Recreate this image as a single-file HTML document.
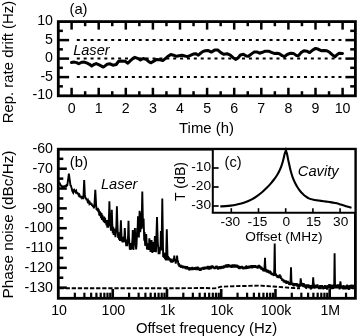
<!DOCTYPE html>
<html><head><meta charset="utf-8"><title>Figure</title>
<style>
html,body{margin:0;padding:0;background:#fff;}
svg{display:block;will-change:transform;}
svg text{font-family:"Liberation Sans", sans-serif;fill:#000;}
</style></head><body>
<svg width="357" height="336" viewBox="0 0 357 336">
<rect width="357" height="336" fill="#fff"/>
<rect x="58.3" y="21.6" width="297.10" height="74.20" fill="none" stroke="#000" stroke-width="2.8"/>
<line x1="71.60" y1="21.60" x2="71.60" y2="29.60" stroke="#000" stroke-width="2.5" />
<line x1="71.60" y1="95.80" x2="71.60" y2="87.80" stroke="#000" stroke-width="2.5" />
<line x1="85.15" y1="21.60" x2="85.15" y2="26.20" stroke="#000" stroke-width="2.5" />
<line x1="85.15" y1="95.80" x2="85.15" y2="91.20" stroke="#000" stroke-width="2.5" />
<line x1="98.70" y1="21.60" x2="98.70" y2="29.60" stroke="#000" stroke-width="2.5" />
<line x1="98.70" y1="95.80" x2="98.70" y2="87.80" stroke="#000" stroke-width="2.5" />
<line x1="112.25" y1="21.60" x2="112.25" y2="26.20" stroke="#000" stroke-width="2.5" />
<line x1="112.25" y1="95.80" x2="112.25" y2="91.20" stroke="#000" stroke-width="2.5" />
<line x1="125.80" y1="21.60" x2="125.80" y2="29.60" stroke="#000" stroke-width="2.5" />
<line x1="125.80" y1="95.80" x2="125.80" y2="87.80" stroke="#000" stroke-width="2.5" />
<line x1="139.35" y1="21.60" x2="139.35" y2="26.20" stroke="#000" stroke-width="2.5" />
<line x1="139.35" y1="95.80" x2="139.35" y2="91.20" stroke="#000" stroke-width="2.5" />
<line x1="152.90" y1="21.60" x2="152.90" y2="29.60" stroke="#000" stroke-width="2.5" />
<line x1="152.90" y1="95.80" x2="152.90" y2="87.80" stroke="#000" stroke-width="2.5" />
<line x1="166.45" y1="21.60" x2="166.45" y2="26.20" stroke="#000" stroke-width="2.5" />
<line x1="166.45" y1="95.80" x2="166.45" y2="91.20" stroke="#000" stroke-width="2.5" />
<line x1="180.00" y1="21.60" x2="180.00" y2="29.60" stroke="#000" stroke-width="2.5" />
<line x1="180.00" y1="95.80" x2="180.00" y2="87.80" stroke="#000" stroke-width="2.5" />
<line x1="193.55" y1="21.60" x2="193.55" y2="26.20" stroke="#000" stroke-width="2.5" />
<line x1="193.55" y1="95.80" x2="193.55" y2="91.20" stroke="#000" stroke-width="2.5" />
<line x1="207.10" y1="21.60" x2="207.10" y2="29.60" stroke="#000" stroke-width="2.5" />
<line x1="207.10" y1="95.80" x2="207.10" y2="87.80" stroke="#000" stroke-width="2.5" />
<line x1="220.65" y1="21.60" x2="220.65" y2="26.20" stroke="#000" stroke-width="2.5" />
<line x1="220.65" y1="95.80" x2="220.65" y2="91.20" stroke="#000" stroke-width="2.5" />
<line x1="234.20" y1="21.60" x2="234.20" y2="29.60" stroke="#000" stroke-width="2.5" />
<line x1="234.20" y1="95.80" x2="234.20" y2="87.80" stroke="#000" stroke-width="2.5" />
<line x1="247.75" y1="21.60" x2="247.75" y2="26.20" stroke="#000" stroke-width="2.5" />
<line x1="247.75" y1="95.80" x2="247.75" y2="91.20" stroke="#000" stroke-width="2.5" />
<line x1="261.30" y1="21.60" x2="261.30" y2="29.60" stroke="#000" stroke-width="2.5" />
<line x1="261.30" y1="95.80" x2="261.30" y2="87.80" stroke="#000" stroke-width="2.5" />
<line x1="274.85" y1="21.60" x2="274.85" y2="26.20" stroke="#000" stroke-width="2.5" />
<line x1="274.85" y1="95.80" x2="274.85" y2="91.20" stroke="#000" stroke-width="2.5" />
<line x1="288.40" y1="21.60" x2="288.40" y2="29.60" stroke="#000" stroke-width="2.5" />
<line x1="288.40" y1="95.80" x2="288.40" y2="87.80" stroke="#000" stroke-width="2.5" />
<line x1="301.95" y1="21.60" x2="301.95" y2="26.20" stroke="#000" stroke-width="2.5" />
<line x1="301.95" y1="95.80" x2="301.95" y2="91.20" stroke="#000" stroke-width="2.5" />
<line x1="315.50" y1="21.60" x2="315.50" y2="29.60" stroke="#000" stroke-width="2.5" />
<line x1="315.50" y1="95.80" x2="315.50" y2="87.80" stroke="#000" stroke-width="2.5" />
<line x1="329.05" y1="21.60" x2="329.05" y2="26.20" stroke="#000" stroke-width="2.5" />
<line x1="329.05" y1="95.80" x2="329.05" y2="91.20" stroke="#000" stroke-width="2.5" />
<line x1="342.60" y1="21.60" x2="342.60" y2="29.60" stroke="#000" stroke-width="2.5" />
<line x1="342.60" y1="95.80" x2="342.60" y2="87.80" stroke="#000" stroke-width="2.5" />
<line x1="58.30" y1="86.35" x2="62.90" y2="86.35" stroke="#000" stroke-width="2.5" />
<line x1="355.40" y1="86.35" x2="350.20" y2="86.35" stroke="#000" stroke-width="2.5" />
<line x1="58.30" y1="77.10" x2="69.10" y2="77.10" stroke="#000" stroke-width="2.5" />
<line x1="355.40" y1="77.10" x2="345.40" y2="77.10" stroke="#000" stroke-width="2.5" />
<line x1="58.30" y1="67.85" x2="62.90" y2="67.85" stroke="#000" stroke-width="2.5" />
<line x1="355.40" y1="67.85" x2="350.20" y2="67.85" stroke="#000" stroke-width="2.5" />
<line x1="58.30" y1="58.60" x2="69.10" y2="58.60" stroke="#000" stroke-width="2.5" />
<line x1="355.40" y1="58.60" x2="345.40" y2="58.60" stroke="#000" stroke-width="2.5" />
<line x1="58.30" y1="49.35" x2="62.90" y2="49.35" stroke="#000" stroke-width="2.5" />
<line x1="355.40" y1="49.35" x2="350.20" y2="49.35" stroke="#000" stroke-width="2.5" />
<line x1="58.30" y1="40.10" x2="69.10" y2="40.10" stroke="#000" stroke-width="2.5" />
<line x1="355.40" y1="40.10" x2="345.40" y2="40.10" stroke="#000" stroke-width="2.5" />
<line x1="58.30" y1="30.85" x2="62.90" y2="30.85" stroke="#000" stroke-width="2.5" />
<line x1="355.40" y1="30.85" x2="350.20" y2="30.85" stroke="#000" stroke-width="2.5" />
<line x1="76.80" y1="40.10" x2="342.50" y2="40.10" stroke="#000" stroke-width="2.0" stroke-dasharray="3.0 3.885"/>
<line x1="76.80" y1="58.60" x2="342.50" y2="58.60" stroke="#000" stroke-width="2.0" stroke-dasharray="3.0 3.885"/>
<line x1="76.80" y1="77.10" x2="342.50" y2="77.10" stroke="#000" stroke-width="2.0" stroke-dasharray="3.0 3.885"/>
<text x="53.00" y="25.10" font-size="14.2" text-anchor="end" >10</text>
<text x="53.00" y="43.60" font-size="14.2" text-anchor="end" >5</text>
<text x="53.00" y="62.10" font-size="14.2" text-anchor="end" >0</text>
<text x="53.00" y="80.60" font-size="14.2" text-anchor="end" >-5</text>
<text x="53.00" y="99.10" font-size="14.2" text-anchor="end" >-10</text>
<text x="71.60" y="112.60" font-size="14.2" text-anchor="middle" >0</text>
<text x="98.70" y="112.60" font-size="14.2" text-anchor="middle" >1</text>
<text x="125.80" y="112.60" font-size="14.2" text-anchor="middle" >2</text>
<text x="152.90" y="112.60" font-size="14.2" text-anchor="middle" >3</text>
<text x="180.00" y="112.60" font-size="14.2" text-anchor="middle" >4</text>
<text x="207.10" y="112.60" font-size="14.2" text-anchor="middle" >5</text>
<text x="234.20" y="112.60" font-size="14.2" text-anchor="middle" >6</text>
<text x="261.30" y="112.60" font-size="14.2" text-anchor="middle" >7</text>
<text x="288.40" y="112.60" font-size="14.2" text-anchor="middle" >8</text>
<text x="315.50" y="112.60" font-size="14.2" text-anchor="middle" >9</text>
<text x="342.60" y="112.60" font-size="14.2" text-anchor="middle" >10</text>
<text x="206.50" y="132.60" font-size="14.9" text-anchor="middle" >Time (h)</text>
<text x="12.90" y="62.00" font-size="14.9" text-anchor="middle" transform="rotate(-90 12.90 62.00)" >Rep. rate drift (Hz)</text>
<text x="78.50" y="13.60" font-size="14.8" text-anchor="middle" >(a)</text>
<text x="91.40" y="54.90" font-size="14.6" text-anchor="middle" font-style="italic">Laser</text>
<polyline fill="none" stroke="#000" stroke-width="3.0" stroke-linejoin="round" stroke-linecap="round" points="71.5,62.6 74.3,62.1 76.6,62.6 78.8,63.8 81.6,62.3 84.4,62.1 87.2,63.2 89.5,64.3 91.7,66.0 93.9,64.5 96.2,63.6 99.2,64.9 103.3,67.1 107.2,64.3 110.0,63.8 112.8,65.2 116.2,64.5 118.4,61.5 121.2,61.0 125.1,61.2 127.9,63.2 130.7,60.4 132.5,58.8 134.8,57.3 137.6,58.3 140.4,60.0 143.2,58.5 146.0,59.2 148.8,61.7 151.0,62.8 153.8,61.1 156.6,59.4 160.0,59.7 162.8,60.6 165.6,58.3 168.2,56.2 170.8,54.5 173.6,55.2 176.4,56.3 179.2,55.7 182.0,55.2 184.8,56.0 187.6,56.6 190.4,55.4 193.2,54.1 196.0,53.8 198.3,55.2 199.9,53.8 202.7,51.6 205.2,50.8 207.9,50.4 211.3,52.1 214.6,50.1 218.0,50.1 220.8,52.6 223.6,54.3 227.5,53.8 230.3,55.2 233.1,57.7 235.9,59.4 238.2,57.7 240.4,55.0 243.4,54.3 246.2,56.0 248.4,56.3 251.2,54.1 254.0,52.1 256.8,51.9 259.6,53.2 262.4,52.3 265.2,51.2 268.6,51.2 271.4,52.3 274.2,53.4 277.0,53.3 279.4,53.8 282.2,55.7 284.4,56.6 287.2,54.5 290.6,53.2 293.4,53.4 296.2,55.4 298.4,55.7 301.2,52.6 304.0,50.7 306.8,51.2 309.6,52.6 312.6,50.1 315.6,48.4 318.4,49.3 321.2,50.7 324.0,50.4 326.8,50.7 329.6,52.3 332.4,54.9 334.9,56.8 336.9,54.9 339.1,53.2 342.5,53.4"/>
<rect x="58.3" y="149.2" width="297.10" height="149.10" fill="none" stroke="#000" stroke-width="2.8"/>
<line x1="58.30" y1="158.81" x2="63.30" y2="158.81" stroke="#000" stroke-width="2.5" />
<line x1="58.30" y1="168.72" x2="66.80" y2="168.72" stroke="#000" stroke-width="2.5" />
<line x1="58.30" y1="178.63" x2="63.30" y2="178.63" stroke="#000" stroke-width="2.5" />
<line x1="58.30" y1="188.54" x2="66.80" y2="188.54" stroke="#000" stroke-width="2.5" />
<line x1="58.30" y1="198.45" x2="63.30" y2="198.45" stroke="#000" stroke-width="2.5" />
<line x1="58.30" y1="208.36" x2="66.80" y2="208.36" stroke="#000" stroke-width="2.5" />
<line x1="58.30" y1="218.27" x2="63.30" y2="218.27" stroke="#000" stroke-width="2.5" />
<line x1="58.30" y1="228.18" x2="66.80" y2="228.18" stroke="#000" stroke-width="2.5" />
<line x1="58.30" y1="238.09" x2="63.30" y2="238.09" stroke="#000" stroke-width="2.5" />
<line x1="58.30" y1="248.00" x2="66.80" y2="248.00" stroke="#000" stroke-width="2.5" />
<line x1="58.30" y1="257.91" x2="63.30" y2="257.91" stroke="#000" stroke-width="2.5" />
<line x1="58.30" y1="267.82" x2="66.80" y2="267.82" stroke="#000" stroke-width="2.5" />
<line x1="58.30" y1="277.73" x2="63.30" y2="277.73" stroke="#000" stroke-width="2.5" />
<line x1="58.30" y1="287.64" x2="66.80" y2="287.64" stroke="#000" stroke-width="2.5" />
<text x="53.00" y="153.20" font-size="14.2" text-anchor="end" >-60</text>
<text x="53.00" y="173.02" font-size="14.2" text-anchor="end" >-70</text>
<text x="53.00" y="192.84" font-size="14.2" text-anchor="end" >-80</text>
<text x="53.00" y="212.66" font-size="14.2" text-anchor="end" >-90</text>
<text x="53.00" y="232.48" font-size="14.2" text-anchor="end" >-100</text>
<text x="53.00" y="252.30" font-size="14.2" text-anchor="end" >-110</text>
<text x="53.00" y="272.12" font-size="14.2" text-anchor="end" >-120</text>
<text x="53.00" y="291.94" font-size="14.2" text-anchor="end" >-130</text>
<line x1="74.83" y1="298.30" x2="74.83" y2="292.70" stroke="#000" stroke-width="2.2" />
<line x1="84.38" y1="298.30" x2="84.38" y2="292.70" stroke="#000" stroke-width="2.2" />
<line x1="91.16" y1="298.30" x2="91.16" y2="292.70" stroke="#000" stroke-width="2.2" />
<line x1="96.41" y1="298.30" x2="96.41" y2="292.70" stroke="#000" stroke-width="2.2" />
<line x1="100.71" y1="298.30" x2="100.71" y2="292.70" stroke="#000" stroke-width="2.2" />
<line x1="104.34" y1="298.30" x2="104.34" y2="292.70" stroke="#000" stroke-width="2.2" />
<line x1="107.48" y1="298.30" x2="107.48" y2="292.70" stroke="#000" stroke-width="2.2" />
<line x1="110.26" y1="298.30" x2="110.26" y2="292.70" stroke="#000" stroke-width="2.2" />
<line x1="112.74" y1="298.30" x2="112.74" y2="289.00" stroke="#000" stroke-width="2.6" />
<line x1="129.07" y1="298.30" x2="129.07" y2="292.70" stroke="#000" stroke-width="2.2" />
<line x1="138.62" y1="298.30" x2="138.62" y2="292.70" stroke="#000" stroke-width="2.2" />
<line x1="145.40" y1="298.30" x2="145.40" y2="292.70" stroke="#000" stroke-width="2.2" />
<line x1="150.65" y1="298.30" x2="150.65" y2="292.70" stroke="#000" stroke-width="2.2" />
<line x1="154.95" y1="298.30" x2="154.95" y2="292.70" stroke="#000" stroke-width="2.2" />
<line x1="158.58" y1="298.30" x2="158.58" y2="292.70" stroke="#000" stroke-width="2.2" />
<line x1="161.72" y1="298.30" x2="161.72" y2="292.70" stroke="#000" stroke-width="2.2" />
<line x1="164.50" y1="298.30" x2="164.50" y2="292.70" stroke="#000" stroke-width="2.2" />
<line x1="166.98" y1="298.30" x2="166.98" y2="289.00" stroke="#000" stroke-width="2.6" />
<line x1="183.31" y1="298.30" x2="183.31" y2="292.70" stroke="#000" stroke-width="2.2" />
<line x1="192.86" y1="298.30" x2="192.86" y2="292.70" stroke="#000" stroke-width="2.2" />
<line x1="199.64" y1="298.30" x2="199.64" y2="292.70" stroke="#000" stroke-width="2.2" />
<line x1="204.89" y1="298.30" x2="204.89" y2="292.70" stroke="#000" stroke-width="2.2" />
<line x1="209.19" y1="298.30" x2="209.19" y2="292.70" stroke="#000" stroke-width="2.2" />
<line x1="212.82" y1="298.30" x2="212.82" y2="292.70" stroke="#000" stroke-width="2.2" />
<line x1="215.96" y1="298.30" x2="215.96" y2="292.70" stroke="#000" stroke-width="2.2" />
<line x1="218.74" y1="298.30" x2="218.74" y2="292.70" stroke="#000" stroke-width="2.2" />
<line x1="221.22" y1="298.30" x2="221.22" y2="289.00" stroke="#000" stroke-width="2.6" />
<line x1="237.55" y1="298.30" x2="237.55" y2="292.70" stroke="#000" stroke-width="2.2" />
<line x1="247.10" y1="298.30" x2="247.10" y2="292.70" stroke="#000" stroke-width="2.2" />
<line x1="253.88" y1="298.30" x2="253.88" y2="292.70" stroke="#000" stroke-width="2.2" />
<line x1="259.13" y1="298.30" x2="259.13" y2="292.70" stroke="#000" stroke-width="2.2" />
<line x1="263.43" y1="298.30" x2="263.43" y2="292.70" stroke="#000" stroke-width="2.2" />
<line x1="267.06" y1="298.30" x2="267.06" y2="292.70" stroke="#000" stroke-width="2.2" />
<line x1="270.20" y1="298.30" x2="270.20" y2="292.70" stroke="#000" stroke-width="2.2" />
<line x1="272.98" y1="298.30" x2="272.98" y2="292.70" stroke="#000" stroke-width="2.2" />
<line x1="275.46" y1="298.30" x2="275.46" y2="289.00" stroke="#000" stroke-width="2.6" />
<line x1="291.79" y1="298.30" x2="291.79" y2="292.70" stroke="#000" stroke-width="2.2" />
<line x1="301.34" y1="298.30" x2="301.34" y2="292.70" stroke="#000" stroke-width="2.2" />
<line x1="308.12" y1="298.30" x2="308.12" y2="292.70" stroke="#000" stroke-width="2.2" />
<line x1="313.37" y1="298.30" x2="313.37" y2="292.70" stroke="#000" stroke-width="2.2" />
<line x1="317.67" y1="298.30" x2="317.67" y2="292.70" stroke="#000" stroke-width="2.2" />
<line x1="321.30" y1="298.30" x2="321.30" y2="292.70" stroke="#000" stroke-width="2.2" />
<line x1="324.44" y1="298.30" x2="324.44" y2="292.70" stroke="#000" stroke-width="2.2" />
<line x1="327.22" y1="298.30" x2="327.22" y2="292.70" stroke="#000" stroke-width="2.2" />
<line x1="329.70" y1="298.30" x2="329.70" y2="289.00" stroke="#000" stroke-width="2.6" />
<line x1="346.03" y1="298.30" x2="346.03" y2="292.70" stroke="#000" stroke-width="2.2" />
<text x="59.10" y="314.90" font-size="14.2" text-anchor="middle" >10</text>
<text x="113.34" y="314.90" font-size="14.2" text-anchor="middle" >100</text>
<text x="167.58" y="314.90" font-size="14.2" text-anchor="middle" >1k</text>
<text x="221.82" y="314.90" font-size="14.2" text-anchor="middle" >10k</text>
<text x="276.06" y="314.90" font-size="14.2" text-anchor="middle" >100k</text>
<text x="330.30" y="314.90" font-size="14.2" text-anchor="middle" >1M</text>
<text x="206.50" y="333.00" font-size="14.9" text-anchor="middle" >Offset frequency (Hz)</text>
<text x="13.20" y="224.50" font-size="15.3" text-anchor="middle" transform="rotate(-90 13.20 224.50)" >Phase noise (dBc/Hz)</text>
<text x="78.90" y="166.90" font-size="14.8" text-anchor="middle" >(b)</text>
<text x="119.20" y="188.60" font-size="14.6" text-anchor="middle" font-style="italic">Laser</text>
<polyline fill="none" stroke="#000" stroke-width="1.9" stroke-dasharray="4.3 1.8" points="59.5,288.3 120.0,288.2 180.0,288.2 205.0,288.0 213.6,288.4 217.0,288.1 220.7,286.7 233.6,286.2 253.0,285.8 259.3,285.6 273.6,286.5 293.0,288.0 300.0,288.4"/>
<polyline fill="none" stroke="#000" stroke-width="1.9" stroke-linejoin="miter" stroke-miterlimit="3" points="59.20,182.05 59.65,183.23 60.10,183.88 60.55,185.00 61.00,185.48 61.45,186.20 61.90,186.20 62.35,187.15 62.80,186.72 63.25,186.94 63.70,186.48 64.15,186.72 64.60,186.26 65.05,186.43 65.50,185.88 65.95,186.12 66.40,185.34 66.85,185.69 67.30,185.34 67.75,182.15 68.20,178.82 68.65,175.47 68.90,173.60 69.10,175.10 69.55,178.50 70.00,181.92 70.45,185.37 70.90,185.60 71.35,187.33 71.80,188.62 72.25,190.94 72.70,191.90 73.15,192.66 73.60,190.52 74.05,191.06 74.50,190.18 74.95,191.06 75.40,189.92 75.85,191.83 76.30,191.08 76.75,193.35 77.20,192.29 77.65,194.28 78.10,193.09 78.55,194.81 79.00,194.47 79.45,197.15 79.90,196.15 80.35,197.49 80.80,196.07 81.25,197.23 81.70,196.00 82.15,198.19 82.60,197.15 83.05,199.15 83.50,195.88 83.95,185.66 84.20,180.00 84.40,184.52 84.85,194.66 85.30,196.99 85.75,198.99 86.20,197.93 86.65,200.20 87.10,198.88 87.55,201.10 88.00,200.29 88.45,202.06 88.90,201.70 89.35,203.60 89.80,202.76 90.25,204.45 90.70,202.83 91.15,204.80 91.60,203.38 92.05,205.92 92.50,204.84 92.95,206.78 93.40,205.77 93.85,208.23 94.30,206.44 94.75,199.45 95.20,191.51 95.30,189.70 95.65,196.14 96.10,204.71 96.55,209.92 97.00,208.36 97.45,210.72 97.90,207.86 98.35,212.06 98.80,209.24 99.25,215.37 99.70,211.05 100.15,216.07 100.60,212.27 101.05,218.20 101.50,213.18 101.95,219.92 102.40,214.88 102.85,220.34 103.30,217.05 103.75,221.93 104.20,216.54 104.65,222.99 105.10,217.73 105.55,223.51 106.00,220.18 106.45,225.30 106.90,220.02 107.35,227.62 107.80,221.41 108.25,227.69 108.70,222.30 109.15,210.22 109.40,201.20 109.60,208.58 110.05,225.70 110.50,223.90 110.95,230.76 111.40,220.93 111.80,209.80 111.85,211.23 112.30,224.51 112.75,233.10 113.20,226.79 113.65,235.07 114.10,228.54 114.55,234.40 115.00,230.14 115.45,237.27 115.90,231.74 116.35,225.72 116.80,209.97 116.90,206.40 117.25,219.10 117.70,231.05 118.15,237.92 118.60,232.39 119.05,239.76 119.50,233.25 119.95,241.04 120.40,233.16 120.85,221.61 120.90,220.30 121.30,230.95 121.75,241.55 122.20,237.89 122.65,242.42 123.10,236.78 123.55,242.30 124.00,238.38 124.45,235.67 124.80,228.00 124.90,230.25 125.35,240.80 125.80,240.65 126.25,246.19 126.70,239.95 127.15,246.18 127.60,240.87 128.05,236.17 128.50,220.80 128.50,220.80 128.95,236.76 129.40,243.86 129.85,249.59 130.30,243.06 130.75,249.92 131.20,243.89 131.65,249.03 132.10,243.83 132.55,236.94 132.80,230.00 133.00,235.54 133.45,250.05 133.90,243.71 134.35,245.00 134.80,231.09 134.90,228.00 135.25,238.79 135.70,243.68 136.15,249.32 136.60,243.79 137.05,231.94 137.20,228.00 137.50,233.05 137.95,218.06 138.00,216.40 138.40,229.69 138.85,237.42 139.30,221.40 139.60,210.70 139.75,216.06 140.20,232.17 140.65,227.39 141.00,212.50 141.10,216.76 141.55,229.05 142.00,206.47 142.30,191.40 142.45,198.94 142.90,221.60 143.35,227.35 143.60,218.50 143.80,225.59 144.25,240.70 144.60,232.00 144.70,234.49 145.15,245.78 145.60,244.37 146.05,236.83 146.20,234.00 146.50,239.70 146.95,249.56 147.40,243.20 147.85,249.58 148.30,243.39 148.75,249.98 149.20,241.48 149.40,238.30 149.65,242.31 150.10,245.23 150.55,252.00 151.00,244.65 151.45,240.84 151.50,240.00 151.90,243.94 152.35,252.89 152.80,245.57 153.20,242.00 153.25,242.68 153.70,246.83 154.15,251.82 154.60,242.58 154.90,236.00 155.05,239.32 155.50,246.86 155.95,252.23 156.40,236.66 156.85,222.02 157.00,217.10 157.30,227.01 157.75,242.06 158.20,247.52 158.65,254.22 159.10,248.13 159.55,254.28 160.00,249.17 160.45,249.79 160.90,231.00 160.90,231.00 161.35,250.46 161.80,232.60 162.25,202.02 162.30,198.60 162.70,226.17 163.15,257.09 163.60,252.29 164.05,257.85 164.50,253.10 164.95,259.10 165.40,253.02 165.85,260.43 166.30,249.19 166.75,231.31 166.80,229.30 167.20,245.62 167.65,260.32 168.10,255.99 168.55,260.31 169.00,257.32 169.45,260.30 169.90,258.26 170.35,261.63 170.80,258.51 171.25,262.58 171.70,259.42 172.15,262.71 172.60,260.15 173.05,262.15 173.50,259.03 173.95,259.12 174.30,255.70 174.40,256.70 174.85,261.31 175.30,259.18 175.75,263.64 176.20,260.00 176.65,260.76 177.10,255.70 177.10,255.70 177.55,261.02 178.00,261.21 178.45,265.34 178.90,263.16 179.35,266.89 179.80,264.94 180.25,267.02 180.70,264.60 181.15,267.75 181.60,265.55 182.05,267.57 182.50,265.50 182.95,268.38 183.40,265.96 183.85,268.26 184.30,265.86 184.75,268.18 185.20,266.42 185.65,269.00 186.10,266.15 186.55,269.36 187.00,266.09 187.45,268.96 187.90,266.91 188.35,269.46 188.80,267.05 189.25,270.50 189.70,267.81 190.15,269.70 190.60,267.40 191.05,270.00 191.50,267.12 191.95,269.34 192.40,266.87 192.85,270.16 193.30,267.52 193.75,269.48 194.20,267.50 194.65,269.89 195.10,267.15 195.55,269.66 196.00,267.01 196.45,270.02 196.90,267.04 197.35,269.25 197.80,266.70 198.25,269.96 198.70,267.52 199.15,270.33 199.60,268.31 200.05,270.93 200.50,268.12 200.95,270.66 201.40,267.32 201.85,269.49 202.30,267.42 202.75,269.63 203.20,266.80 203.65,269.77 204.10,266.87 204.55,268.85 205.00,266.59 205.45,269.32 205.90,266.62 206.35,268.51 206.80,266.85 207.25,268.96 207.70,265.95 208.15,269.26 208.60,265.96 209.05,269.51 209.50,266.21 209.95,269.34 210.40,266.91 210.85,269.25 211.30,265.60 211.75,267.86 212.20,265.40 212.65,267.97 213.10,265.85 213.55,268.68 214.00,267.07 214.45,269.02 214.90,266.95 215.35,269.05 215.80,265.96 216.25,268.58 216.70,265.70 217.15,268.53 217.60,266.58 218.05,269.60 218.50,266.49 218.95,269.19 219.40,266.86 219.85,268.60 220.30,266.20 220.75,269.13 221.20,266.49 221.65,268.69 222.10,265.81 222.55,268.43 223.00,266.14 223.45,268.71 223.90,265.39 224.35,267.76 224.80,265.96 225.25,267.58 225.70,264.75 226.15,267.35 226.60,264.48 227.05,267.65 227.50,264.86 227.95,267.12 228.40,264.21 228.85,267.30 229.30,264.71 229.75,267.30 230.20,264.94 230.65,267.43 231.10,265.72 231.55,267.93 232.00,264.50 232.45,267.57 232.90,264.47 233.35,267.20 233.80,265.44 234.25,267.60 234.70,264.37 235.15,267.73 235.60,264.79 236.05,267.05 236.50,264.75 236.95,267.55 237.40,264.83 237.85,267.94 238.30,265.51 238.75,268.80 239.20,265.76 239.65,269.03 240.10,266.04 240.55,268.60 241.00,266.34 241.45,268.67 241.90,265.92 242.35,268.48 242.80,266.64 243.25,269.24 243.70,266.70 244.15,268.66 244.60,266.95 245.05,269.12 245.50,266.39 245.95,269.03 246.40,265.31 246.85,268.93 247.30,266.24 247.75,268.36 248.20,266.50 248.65,268.62 249.10,265.70 249.55,268.35 250.00,265.90 250.45,268.01 250.90,265.29 251.35,268.20 251.80,265.16 252.25,268.40 252.70,265.31 253.15,267.78 253.60,265.14 254.05,267.82 254.50,265.23 254.95,267.77 255.40,265.15 255.85,267.85 256.30,265.89 256.75,268.04 257.20,266.06 257.65,268.68 258.10,265.29 258.55,267.49 259.00,264.81 259.45,268.08 259.90,265.58 260.35,268.54 260.80,266.26 261.25,269.72 261.70,266.82 262.15,269.92 262.60,268.06 263.05,271.23 263.50,268.20 263.95,271.49 264.40,269.14 264.85,261.64 265.00,257.90 265.30,265.56 265.75,271.48 266.20,269.08 266.65,272.33 267.10,269.53 267.55,272.49 268.00,269.92 268.45,272.88 268.90,270.84 269.35,273.51 269.80,270.52 270.25,273.29 270.70,271.44 271.15,274.50 271.60,272.57 272.05,274.96 272.50,273.24 272.95,275.39 273.40,273.57 273.85,276.02 274.30,268.22 274.70,243.60 274.75,246.69 275.20,274.06 275.65,275.89 276.10,273.54 276.55,276.53 277.00,275.12 277.45,277.75 277.90,275.84 278.35,278.18 278.80,275.43 279.25,276.23 279.70,274.42 280.15,277.38 280.60,275.69 281.05,278.90 281.50,277.97 281.95,280.72 282.40,278.59 282.85,281.20 283.30,279.36 283.75,282.31 284.20,279.86 284.65,282.52 285.10,280.42 285.55,282.98 286.00,280.41 286.45,283.87 286.90,281.13 287.35,283.25 287.80,280.86 288.25,283.34 288.70,281.95 289.15,284.78 289.60,282.42 290.05,285.21 290.50,282.35 290.95,268.84 291.00,267.20 291.40,280.35 291.85,284.70 292.30,283.23 292.75,285.62 293.20,282.97 293.65,286.33 294.10,283.81 294.55,286.00 295.00,283.12 295.45,285.58 295.90,283.29 296.35,285.58 296.80,283.05 297.25,286.72 297.70,284.21 298.15,287.02 298.60,283.76 299.05,287.57 299.50,284.44 299.95,286.55 300.40,282.59 300.70,278.30 300.85,280.47 301.30,283.44 301.75,286.11 302.20,282.92 302.65,286.63 303.10,283.03 303.55,287.09 304.00,283.39 304.45,287.22 304.90,284.25 305.35,288.01 305.80,285.03 306.25,288.79 306.70,284.36 307.15,287.62 307.60,284.65 308.05,287.42 308.50,284.39 308.95,288.14 309.40,285.67 309.85,288.46 310.30,285.05 310.75,289.53 311.20,286.03 311.65,288.91 312.10,284.78 312.55,288.02 313.00,281.10 313.20,277.30 313.45,282.06 313.90,284.64 314.35,288.54 314.80,284.82 315.25,288.27 315.70,284.86 316.15,288.25 316.60,284.54 317.05,288.17 317.50,284.42 317.95,287.97 318.40,285.62 318.85,289.14 319.30,285.76 319.75,288.84 320.20,285.08 320.65,289.26 321.10,285.33 321.55,288.39 322.00,285.22 322.45,288.46 322.90,286.12 323.35,289.29 323.80,286.20 324.25,288.89 324.70,285.14 325.15,288.27 325.60,285.30 326.05,288.75 326.50,285.42 326.95,289.67 327.40,285.70 327.85,288.55 328.30,285.24 328.75,288.37 329.20,284.15 329.65,287.92 330.10,284.32 330.55,289.07 331.00,284.54 331.45,288.88 331.90,285.34 332.35,289.08 332.80,284.86 333.25,289.01 333.70,284.42 334.15,288.33 334.60,253.20 334.60,253.20 335.05,287.10 335.50,285.65 335.95,288.26 336.40,284.56 336.85,288.14 337.30,284.51 337.75,288.28 338.20,284.40 338.65,287.83 339.10,284.91 339.55,289.41 340.00,285.94 340.40,281.30 340.45,281.88 340.90,285.40 341.35,288.49 341.80,285.68 342.25,288.24 342.70,285.60 343.15,289.32 343.60,284.98 344.05,289.38 344.50,285.85 344.95,289.48 345.40,286.23 345.85,289.42 346.30,285.37 346.75,288.73 347.20,284.56 347.65,288.99 348.10,285.46 348.55,289.89 349.00,286.23 349.45,289.68 349.90,285.08 350.35,288.67 350.80,284.82 351.25,288.54 351.70,284.56 352.15,288.94 352.60,285.45 353.05,289.04 353.50,284.95 353.95,287.79"/>
<rect x="212.8" y="150.2" width="141.60" height="62.50" fill="#fff" stroke="none"/>
<line x1="212.80" y1="149.20" x2="212.80" y2="212.70" stroke="#000" stroke-width="2.0" />
<line x1="211.80" y1="212.70" x2="355.40" y2="212.70" stroke="#000" stroke-width="2.0" />
<line x1="212.80" y1="168.00" x2="218.60" y2="168.00" stroke="#000" stroke-width="1.7" />
<text x="211.10" y="171.10" font-size="13.7" text-anchor="end" >-10</text>
<line x1="212.80" y1="187.00" x2="218.60" y2="187.00" stroke="#000" stroke-width="1.7" />
<text x="211.10" y="190.10" font-size="13.7" text-anchor="end" >-20</text>
<line x1="212.80" y1="206.00" x2="218.60" y2="206.00" stroke="#000" stroke-width="1.7" />
<text x="211.10" y="209.10" font-size="13.7" text-anchor="end" >-30</text>
<line x1="231.30" y1="212.70" x2="231.30" y2="208.20" stroke="#000" stroke-width="1.6" />
<text x="230.30" y="225.90" font-size="13.7" text-anchor="middle" >-30</text>
<line x1="258.50" y1="212.70" x2="258.50" y2="208.20" stroke="#000" stroke-width="1.6" />
<text x="257.50" y="225.90" font-size="13.7" text-anchor="middle" >-15</text>
<line x1="285.70" y1="212.70" x2="285.70" y2="208.20" stroke="#000" stroke-width="1.6" />
<text x="286.30" y="225.90" font-size="13.7" text-anchor="middle" >0</text>
<line x1="312.90" y1="212.70" x2="312.90" y2="208.20" stroke="#000" stroke-width="1.6" />
<text x="313.50" y="225.90" font-size="13.7" text-anchor="middle" >15</text>
<line x1="340.10" y1="212.70" x2="340.10" y2="208.20" stroke="#000" stroke-width="1.6" />
<text x="340.70" y="225.90" font-size="13.7" text-anchor="middle" >30</text>
<text x="283.90" y="240.60" font-size="13.7" text-anchor="middle" >Offset (MHz)</text>
<text x="184.50" y="181.50" font-size="14.2" text-anchor="middle" transform="rotate(-90 184.50 181.50)" >T (dB)</text>
<text x="233.10" y="166.90" font-size="14.6" text-anchor="middle" >(c)</text>
<text x="318.20" y="176.00" font-size="14.7" text-anchor="middle" font-style="italic">Cavity</text>
<path fill="none" stroke="#000" stroke-width="2.1" stroke-linejoin="miter" d="M220.30,206.40 C221.17,206.35 223.75,206.23 225.50,206.10 C227.25,205.97 229.05,205.82 230.80,205.60 C232.55,205.38 234.25,205.13 236.00,204.80 C237.75,204.47 239.55,204.10 241.30,203.60 C243.05,203.10 244.75,202.50 246.50,201.80 C248.25,201.10 250.05,200.35 251.80,199.40 C253.55,198.45 255.25,197.33 257.00,196.10 C258.75,194.87 260.72,193.33 262.30,192.00 C263.88,190.67 265.10,189.50 266.50,188.10 C267.90,186.70 269.45,185.03 270.70,183.60 C271.95,182.17 272.95,180.90 274.00,179.50 C275.05,178.10 276.13,176.58 277.00,175.20 C277.87,173.82 278.50,172.63 279.20,171.20 C279.90,169.77 280.63,168.08 281.20,166.60 C281.77,165.12 282.20,163.67 282.60,162.30 C283.00,160.93 283.25,159.82 283.60,158.40 C283.95,156.98 284.32,155.13 284.70,153.80 C285.08,152.47 285.70,150.97 285.90,150.40 L285.90,150.40 C286.10,151.03 286.70,152.53 287.10,154.20 C287.50,155.87 287.92,158.55 288.30,160.40 C288.68,162.25 289.02,163.62 289.40,165.30 C289.78,166.98 290.08,168.58 290.60,170.50 C291.12,172.42 291.77,174.75 292.50,176.80 C293.23,178.85 294.12,180.97 295.00,182.80 C295.88,184.63 296.88,186.35 297.80,187.80 C298.72,189.25 299.63,190.45 300.50,191.50 C301.37,192.55 302.08,193.23 303.00,194.10 C303.92,194.97 304.95,195.95 306.00,196.70 C307.05,197.45 308.05,198.08 309.30,198.60 C310.55,199.12 312.17,199.50 313.50,199.80 C314.83,200.10 316.05,200.22 317.30,200.40 C318.55,200.58 319.50,200.70 321.00,200.90 C322.50,201.10 324.75,201.40 326.30,201.60 C327.85,201.80 328.80,201.87 330.30,202.10 C331.80,202.33 333.93,202.72 335.30,203.00 C336.67,203.28 337.58,203.53 338.50,203.80 C339.42,204.07 339.55,204.20 340.80,204.60 C342.05,205.00 344.22,205.67 346.00,206.20 C347.78,206.73 350.58,207.53 351.50,207.80"/>
</svg>
</body></html>
